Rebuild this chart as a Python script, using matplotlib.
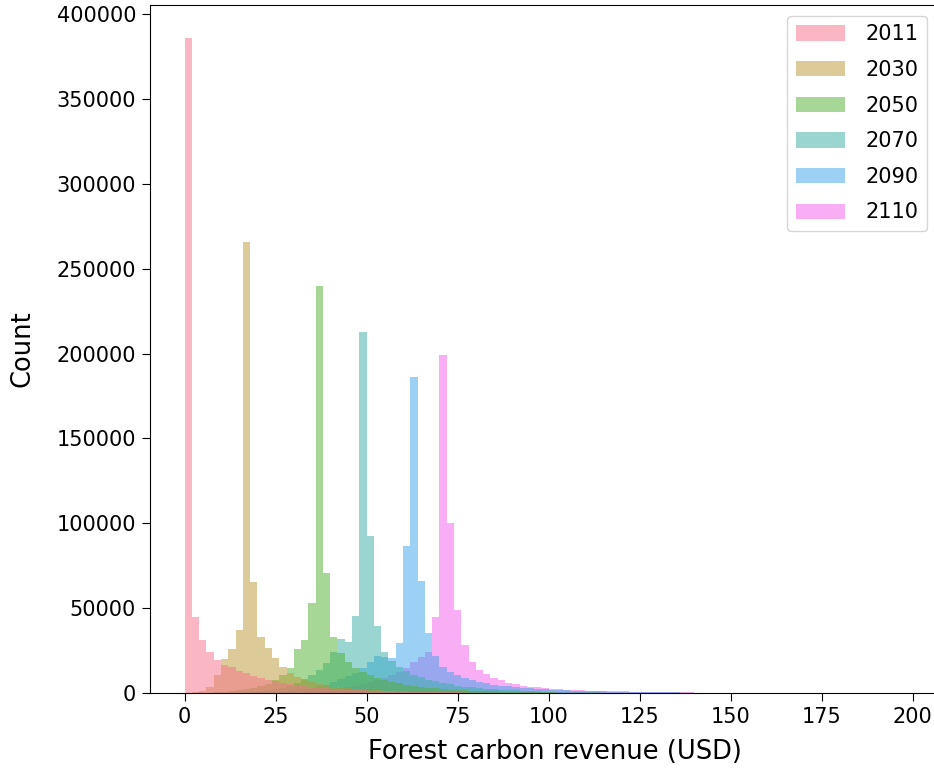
import numpy as np
import matplotlib.pyplot as plt

# histogram counts per 2-USD bin, starting at 0
years = ['2011', '2030', '2050', '2070', '2090', '2110']
bin_width = 2.0

counts_2011 = [386000, 44500, 31300, 24400, 19500, 16500, 15200, 13200, 11600, 10200,
               8700, 7700, 6800, 6000, 5300, 4700, 4100, 3600, 3200, 2800,
               2500, 2200, 1900, 1700, 1500, 1300, 1150, 1000, 900, 800,
               700, 620, 550, 490, 430, 380, 340, 300, 260, 230,
               200, 180, 160, 140, 120, 100, 90, 80, 70, 60,
               50, 40, 35, 30, 25, 20, 15, 10, 10, 5,
               5, 0, 0, 0, 0, 0, 0, 0, 0, 0, 0]
counts_2030 = [0, 300, 1000, 3500, 10600, 19900, 25800, 37200, 266000, 65700,
               33200, 26400, 20500, 15200, 11500, 9200, 7600, 6300, 5300, 4500,
               3800, 3300, 2800, 2400, 2100, 1800, 1600, 1400, 1200, 1050,
               900, 800, 700, 620, 550, 480, 420, 370, 330, 290,
               250, 220, 190, 170, 150, 130, 110, 95, 80, 70,
               60, 50, 45, 40, 35, 30, 25, 20, 15, 10,
               5, 0, 0, 0, 0, 0, 0, 0, 0, 0, 0]
counts_2050 = [0, 0, 50, 150, 300, 600, 1000, 1500, 2200, 3000,
               4000, 5500, 7500, 10500, 14600, 26000, 31300, 52900, 239700, 70600,
               33000, 23500, 18500, 15000, 12500, 10500, 9000, 7700, 6600, 5700,
               4900, 4200, 3600, 3100, 2700, 2300, 2000, 1750, 1500, 1300,
               1150, 1000, 900, 800, 700, 620, 550, 480, 420, 370,
               320, 280, 240, 210, 180, 150, 130, 110, 90, 70,
               50, 40, 30, 25, 20, 15, 10, 5, 5, 0, 0]
counts_2070 = [0, 0, 0, 0, 0, 50, 100, 200, 400, 700,
               1100, 1600, 2300, 3200, 4400, 6000, 8000, 10500, 13500, 17500,
               24000, 31700, 29900, 45400, 212800, 92500, 39700, 24000, 19000, 15500,
               12800, 10800, 9200, 7900, 6800, 5900, 5100, 4400, 3800, 3300,
               2900, 2500, 2200, 1950, 1700, 1500, 1300, 1150, 1000, 880,
               770, 670, 580, 500, 430, 370, 320, 270, 230, 190,
               160, 130, 100, 80, 60, 50, 40, 30, 20, 10, 5]
counts_2090 = [0, 0, 0, 0, 0, 0, 0, 0, 0, 50,
               100, 200, 400, 700, 1100, 1600, 2200, 3000, 4000, 5000,
               6500, 8000, 10000, 12000, 15000, 18000, 22000, 21500, 20500, 29300,
               86900, 186000, 66300, 35600, 22000, 15500, 12600, 10600, 9000, 7700,
               6700, 5800, 5000, 4400, 3900, 3400, 3000, 2700, 2400, 2100,
               1900, 1700, 1500, 1350, 1200, 1100, 1000, 900, 800, 700,
               650, 600, 550, 500, 450, 400, 350, 300, 250, 200, 150]
counts_2110 = [0, 0, 0, 0, 0, 0, 0, 0, 0, 0,
               0, 50, 100, 200, 300, 500, 700, 1000, 1300, 1700,
               2200, 2800, 3500, 4300, 5300, 6700, 7700, 8700, 10600, 12600,
               14600, 18500, 21400, 24400, 45000, 199400, 100100, 49000, 28500, 18500,
               13600, 11200, 8700, 7700, 6100, 5300, 4300, 3800, 3300, 2900,
               2500, 2200, 2000, 1800, 1600, 1400, 1300, 1200, 1100, 1000,
               900, 850, 800, 750, 700, 650, 600, 550, 450, 350, 250]

all_counts = [counts_2011, counts_2030, counts_2050, counts_2070, counts_2090, counts_2110]
colors = ['#f77189', '#bb9832', '#50b131', '#36ada4', '#3ba3ec', '#f45deb']  # seaborn husl(6)

bin_edges = np.arange(len(counts_2011) + 1) * bin_width
bin_centers = bin_edges[:-1] + bin_width / 2

fig = plt.figure(figsize=(9.34, 7.71), dpi=100)
# the reference is cropped on the right, so the axes run past the canvas edge
ax = fig.add_axes([150 / 934, 78 / 771, 810 / 934, 688 / 771])

# draw last year first so the earliest year sits on top (seaborn layer order)
for year, counts, color in reversed(list(zip(years, all_counts, colors))):
    ax.hist(bin_centers, bins=bin_edges, weights=counts, histtype='stepfilled',
            color=color, alpha=0.5, linewidth=0, label=year)

ax.set_xlim(-9.5, 213)
ax.set_ylim(0, 405500)
ax.set_xticks([0, 25, 50, 75, 100, 125, 150, 175, 200])
ax.tick_params(labelsize=15, length=6, pad=4)
ax.set_xlabel('Forest carbon revenue (USD)', fontsize=18.5, labelpad=9)
ax.set_ylabel('Count', fontsize=18.5, labelpad=15)

handles, labels = ax.get_legend_handles_labels()
ax.legend(handles[::-1], labels[::-1], loc='upper right', fontsize=15,
          handlelength=2.35, handleheight=0.75, labelspacing=0.75, handletextpad=1.0,
          bbox_to_anchor=(927 / 934, 1 - 16 / 771), bbox_transform=fig.transFigure,
          borderaxespad=0)

fig.savefig('out.png', dpi=100)
